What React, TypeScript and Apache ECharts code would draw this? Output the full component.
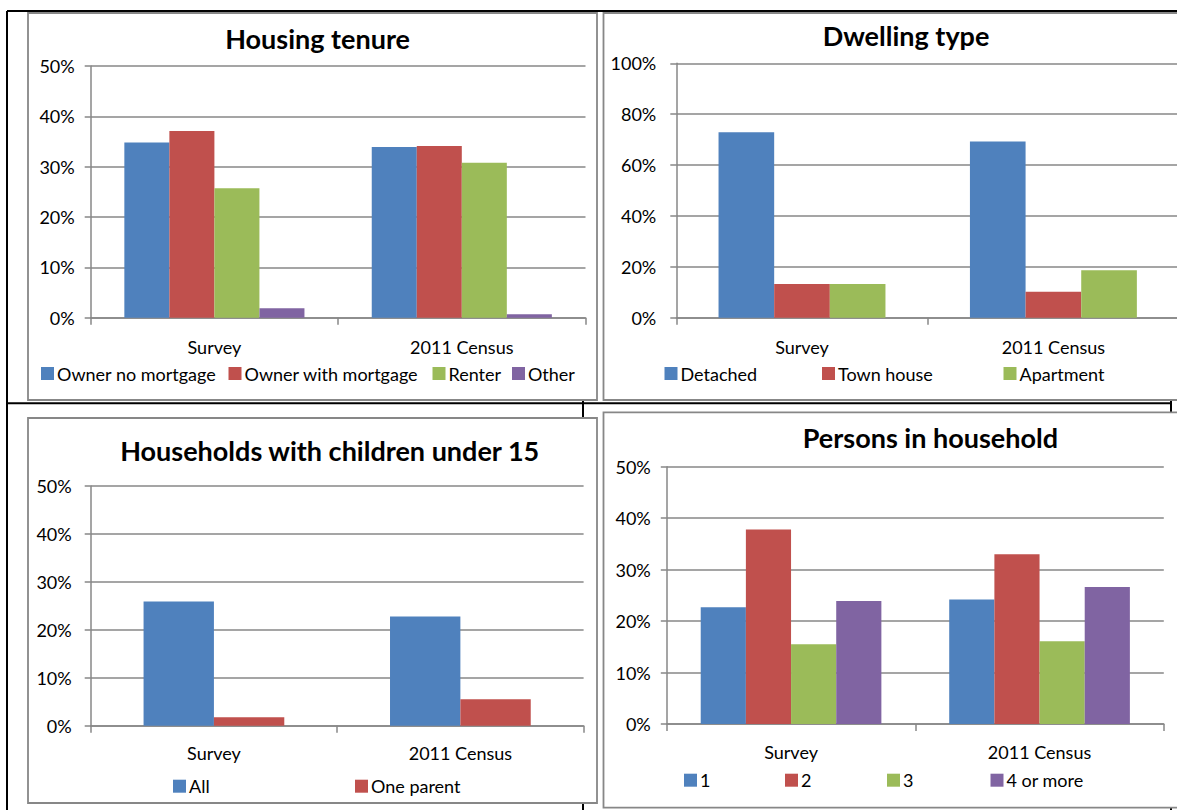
import React, { useEffect, useRef } from "react";
import * as echarts from "echarts";

const categories = ["Survey", "2011 Census"];

// Housing tenure (%)
const tenureNames = ["Owner no mortgage", "Owner with mortgage", "Renter", "Other"];
const ownerNoMortgage = [34.8, 33.9];
const ownerWithMortgage = [37.1, 34.1];
const renter = [25.7, 30.8];
const otherTenure = [1.9, 0.7];

// Dwelling type (%)
const dwellingNames = ["Detached", "Town house", "Apartment"];
const detached = [72.9, 69.3];
const townHouse = [13.2, 10.2];
const apartment = [13.2, 18.7];

// Households with children under 15 (%)
const childrenNames = ["All", "One parent"];
const allHouseholds = [25.9, 22.8];
const oneParent = [1.75, 5.5];

// Persons in household (%)
const personsNames = ["1", "2", "3", "4 or more"];
const persons1 = [22.7, 24.2];
const persons2 = [37.8, 33.0];
const persons3 = [15.5, 16.1];
const persons4 = [23.9, 26.6];

const titles = ["Housing tenure", "Dwelling type", "Households with children under 15", "Persons in household"];
const yMax = [50, 100, 50, 50];
const yInterval = [10, 20, 10, 10];

const COLORS = ["#4F81BD", "#C0504D", "#9BBB59", "#8064A2"];
const FONT = "Lato";
const GRAY = "#878787";

export default function App() {
  const ref = useRef<HTMLDivElement>(null);
  useEffect(() => {
    if (!ref.current) return;
    const chart = echarts.init(ref.current, null, { renderer: "svg" });

    const grids = [
      { left: 90.7, top: 66, width: 494.8, height: 251.7 },
      { left: 676.3, top: 63.3, width: 502.8, height: 254.4 },
      { left: 90.7, top: 486, width: 492.9, height: 239.7 },
      { left: 666.8, top: 466.7, width: 497, height: 257.3 },
    ];
    const catMargins = [20, 20, 18, 19];
    const valMargins = [16, 20, 19, 16];
    const gaps = ["27.2%", "33.6%", "42.9%", "27.3%"];

    const groups = [
      { names: tenureNames, data: [ownerNoMortgage, ownerWithMortgage, renter, otherTenure] },
      { names: dwellingNames, data: [detached, townHouse, apartment] },
      { names: childrenNames, data: [allHouseholds, oneParent] },
      { names: personsNames, data: [persons1, persons2, persons3, persons4] },
    ];

    const series: any[] = [];
    groups.forEach((g, gi) => {
      g.names.forEach((n, si) => {
        series.push({
          type: "bar",
          name: n,
          xAxisIndex: gi,
          yAxisIndex: gi,
          data: g.data[si],
          barGap: "0%",
          barCategoryGap: gaps[gi],
          itemStyle: { color: COLORS[si] },
          emphasis: { disabled: true },
        });
      });
    });

    const legendPos = [
      { top: 374, lefts: [41, 228.5, 432.5, 512] },
      { top: 374, lefts: [664.5, 822, 1003.5] },
      { top: 786.7, lefts: [173, 355] },
      { top: 780.7, lefts: [684, 785, 887, 990.5] },
    ];
    const legends: any[] = [];
    groups.forEach((g, gi) => {
      g.names.forEach((n, si) => {
        legends.push({
          data: [n],
          left: legendPos[gi].lefts[si],
          top: legendPos[gi].top - 9.5,
          itemWidth: 13,
          itemHeight: 13,
          icon: "rect",
          padding: 0,
          selectedMode: false,
          textStyle: { fontFamily: FONT, fontSize: 18, color: "#000", padding: [0, 0, 0, -2] },
        });
      });
    });

    const titlePos = [
      { x: 317.6, y: 38 },
      { x: 906, y: 35.8 },
      { x: 329.7, y: 450 },
      { x: 930.4, y: 437.5 },
    ];

    const line = (x1: number, y1: number, x2: number, y2: number) => ({
      type: "line",
      z: -50,
      shape: { x1, y1, x2, y2 },
      style: { stroke: "#000", lineWidth: 2 },
      silent: true,
    });
    const frame = (x: number, y: number, w: number, h: number) => ({
      type: "rect",
      z: -40,
      shape: { x, y, width: w, height: h },
      style: { fill: "#fff", stroke: GRAY, lineWidth: 1.8 },
      silent: true,
    });

    const graphic: any[] = [
      line(7, 11, 1177, 11),
      line(7, 11, 7, 810),
      line(7, 403.3, 1171, 403.3),
      line(583, 11, 583, 810),
      line(1171, 11, 1171, 810),
      frame(28, 13, 569, 387),
      frame(603.5, 13, 620, 387),
      frame(28, 418, 569, 385),
      frame(603.5, 412.3, 620, 395.4),
      ...titles.map((t, i) => ({
        type: "text",
        z: 10,
        x: titlePos[i].x,
        y: titlePos[i].y,
        silent: true,
        style: {
          text: t,
          fill: "#000",
          font: `bold 27px ${FONT}`,
          textAlign: "center",
          textVerticalAlign: "middle",
        },
      })),
    ];

    const option: any = {
      animation: false,
      backgroundColor: "#fff",
      grid: grids.map((g) => ({ ...g, containLabel: false, outerBoundsMode: "none" })),
      xAxis: grids.map((_, i) => ({
        type: "category",
        gridIndex: i,
        data: categories,
        axisLine: { show: true, lineStyle: { color: GRAY, width: 1.5 } },
        axisTick: { show: true, length: 7, lineStyle: { color: GRAY, width: 1.5 } },
        axisLabel: { margin: catMargins[i], fontFamily: FONT, fontSize: 18, color: "#000" },
        splitLine: { show: false },
      })),
      yAxis: grids.map((_, i) => ({
        type: "value",
        gridIndex: i,
        min: 0,
        max: yMax[i],
        interval: yInterval[i],
        axisLine: { show: true, lineStyle: { color: GRAY, width: 1.5 } },
        axisTick: { show: true, length: 6, lineStyle: { color: GRAY, width: 1.5 } },
        axisLabel: {
          margin: valMargins[i],
          formatter: "{value}%",
          fontFamily: FONT,
          fontSize: 18,
          color: "#000",
        },
        splitLine: { show: true, lineStyle: { color: GRAY, width: 1.5 } },
      })),
      legend: legends,
      series,
      graphic,
    };
    chart.setOption(option);
    return () => chart.dispose();
  }, []);
  return (
    <div
      ref={ref}
      style={{ position: "absolute", left: 0, top: 0, width: 1177, height: 810, overflow: "hidden" }}
    />
  );
}
